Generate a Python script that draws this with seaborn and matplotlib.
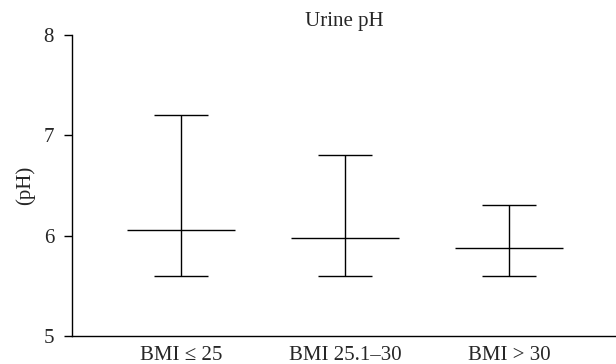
import numpy as np
import pandas as pd
import matplotlib
matplotlib.use("Agg")
import matplotlib.pyplot as plt
import seaborn as sns

groups = ["BMI \u2264 25", "BMI 25.1\u201330", "BMI > 30"]
median_ph = [6.05, 5.98, 5.88]
low_ph = [5.6, 5.6, 5.6]
high_ph = [7.2, 6.8, 6.3]

df = pd.DataFrame({"group": groups, "median": median_ph, "low": low_ph, "high": high_ph})

sns.set_style("ticks")
plt.rcParams["font.family"] = ["Liberation Serif", "DejaVu Serif"]
plt.rcParams["font.size"] = 15

fig = plt.figure(figsize=(6.16, 3.64), dpi=100)
ax = fig.add_axes([0.117, 0.077, 0.883, 0.828])

pos = np.arange(len(df))
ax.vlines(pos, df["low"], df["high"], color="black", lw=1.0)
ax.hlines(df["high"], pos - 0.165, pos + 0.165, color="black", lw=1.0)
ax.hlines(df["low"], pos - 0.165, pos + 0.165, color="black", lw=1.0)
ax.hlines(df["median"], pos - 0.33, pos + 0.33, color="black", lw=1.0)

ax.set_xlim(-0.665, 2.65)
ax.set_ylim(5, 8)
ax.set_yticks([5, 6, 7, 8])
ax.set_xticks(pos)
ax.set_xticklabels(groups)
ax.tick_params(axis="x", length=0, pad=7, labelsize=15)
ax.tick_params(axis="y", length=6, width=1.0, color="black", pad=7, labelsize=15)
for s in ["left", "bottom"]:
    ax.spines[s].set_color("black")
    ax.spines[s].set_linewidth(1.0)
sns.despine(ax=ax)

ax.set_ylabel("(pH)", fontsize=15, labelpad=6)
ax.set_title("Urine pH", fontsize=15, pad=6)

fig.savefig("out.png", dpi=100)
